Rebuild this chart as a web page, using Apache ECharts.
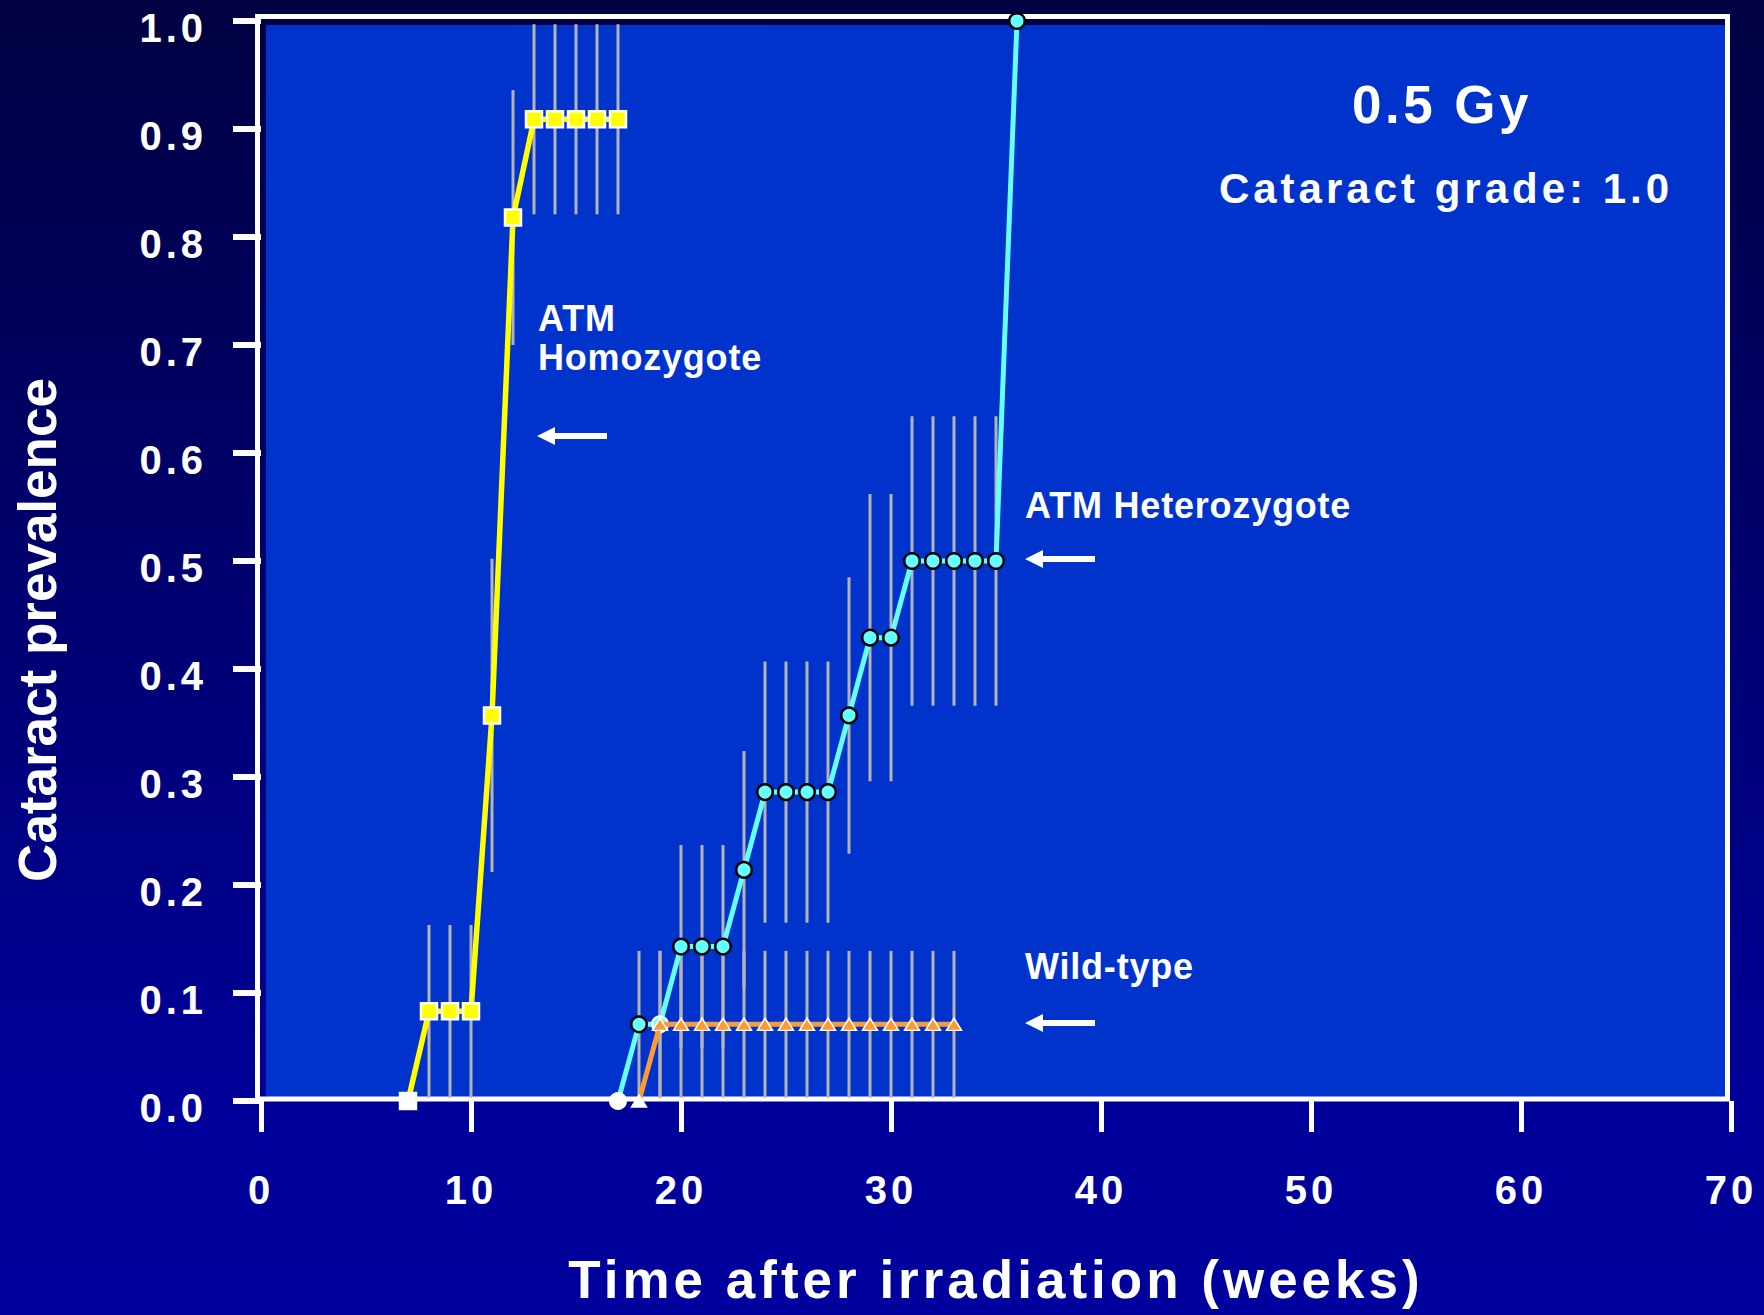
<!DOCTYPE html>
<html>
<head>
<meta charset="utf-8">
<title>Cataract prevalence after 0.5 Gy</title>
<script src="https://cdn.jsdelivr.net/npm/echarts@6/dist/echarts.min.js"></script>
<style>
  html, body { margin: 0; padding: 0; }
  #chart {
    width: 1764px;
    height: 1315px;
    background: linear-gradient(to bottom, #000042 0%, #000070 45%, #00009a 85%, #00009c 100%);
  }
</style>
</head>
<body>
<div id="chart"></div>
<script>
// Time after irradiation (weeks) and cataract prevalence with its error half-width
const weeksHom = [7, 8, 9, 10, 11, 12, 13, 14, 15, 16, 17];
const prevHom  = [0, 0.083, 0.083, 0.083, 0.357, 0.818, 0.909, 0.909, 0.909, 0.909, 0.909];
const errHom   = [0, 0.08, 0.08, 0.08, 0.145, 0.118, 0.088, 0.088, 0.088, 0.088, 0.088];

const weeksHet = [17, 18, 19, 20, 21, 22, 23, 24, 25, 26, 27, 28, 29, 30, 31, 32, 33, 34, 35, 36];
const prevHet  = [0, 0.071, 0.071, 0.143, 0.143, 0.143, 0.214, 0.286, 0.286, 0.286, 0.286,
                  0.357, 0.429, 0.429, 0.5, 0.5, 0.5, 0.5, 0.5, 1.0];
const errHet   = [0, 0.068, 0.068, 0.094, 0.094, 0.094, 0.11, 0.121, 0.121, 0.121, 0.121,
                  0.128, 0.133, 0.133, 0.134, 0.134, 0.134, 0.134, 0.134, 0];

const weeksWt = [18, 19, 20, 21, 22, 23, 24, 25, 26, 27, 28, 29, 30, 31, 32, 33];
const prevWt  = [0, 0.071, 0.071, 0.071, 0.071, 0.071, 0.071, 0.071, 0.071, 0.071, 0.071,
                 0.071, 0.071, 0.071, 0.071, 0.071];
const errWt   = [0, 0.068, 0.068, 0.068, 0.068, 0.068, 0.068, 0.068, 0.068, 0.068, 0.068,
                 0.068, 0.068, 0.068, 0.068, 0.068];

const xTicks = [0, 10, 20, 30, 40, 50, 60, 70];
const yTicks = [0, 0.1, 0.2, 0.3, 0.4, 0.5, 0.6, 0.7, 0.8, 0.9, 1.0];

const xTitle = 'Time after irradiation (weeks)';
const yTitle = 'Cataract prevalence';
const doseText = '0.5 Gy';
const gradeText = 'Cataract grade: 1.0';
const labelHomLines = ['ATM', 'Homozygote'];
const labelHet = 'ATM Heterozygote';
const labelWt = 'Wild-type';

const FONT = '"Liberation Sans", Arial, Helvetica, sans-serif';
const YELLOW = '#ffff00', CYAN = '#66ffff', ORANGE = '#ff9933', BAR = '#b4b4b4';

function points(weeks, vals, styler) {
  return weeks.map((w, i) => {
    const d = { value: [w, vals[i]] };
    const s = styler(w, vals[i]);
    if (s) d.itemStyle = s;
    return d;
  });
}

function bars(weeks, vals, errs) {
  const out = [];
  weeks.forEach((w, i) => { if (errs[i] > 0) out.push([w, vals[i], errs[i]]); });
  return out;
}

function errorBarSeries(data) {
  return {
    type: 'custom',
    z: 1,
    silent: true,
    clip: false,
    encode: { x: 0, y: 1 },
    data: data,
    renderItem: function (params, api) {
      const x = api.value(0), y = api.value(1), e = api.value(2);
      const lo = api.coord([x, y - e]);
      const hi = api.coord([x, y + e]);
      return {
        type: 'line',
        shape: { x1: lo[0], y1: lo[1], x2: hi[0], y2: hi[1] },
        style: { stroke: BAR, lineWidth: 3 }
      };
    }
  };
}

function arrow(tipX, y) {
  // left-pointing arrow: head 18 px long and 18 px tall, shaft 6 px thick
  return {
    type: 'polygon',
    z: 5,
    silent: true,
    shape: {
      points: [
        [tipX, y], [tipX + 18, y - 9], [tipX + 18, y - 3], [tipX + 70, y - 3],
        [tipX + 70, y + 3], [tipX + 18, y + 3], [tipX + 18, y + 9]
      ]
    },
    style: { fill: '#ffffff' }
  };
}

function label(text, x, y, size, align, extra, styleExtra) {
  return Object.assign({
    type: 'text',
    z: 5,
    silent: true,
    x: x,
    y: y,
    style: Object.assign({
      text: text,
      fill: '#ffffff',
      font: 'bold ' + size + 'px ' + FONT,
      align: align,
      verticalAlign: 'middle'
    }, styleExtra || {})
  }, extra || {});
}

const chart = echarts.init(document.getElementById('chart'), null, { renderer: 'svg' });

const option = {
  animation: false,
  backgroundColor: 'transparent',
  grid: { left: 261, right: 33, top: 21, bottom: 214 },
  xAxis: {
    type: 'value',
    min: xTicks[0],
    max: xTicks[xTicks.length - 1],
    interval: xTicks[1] - xTicks[0],
    axisLine: { show: false },
    splitLine: { show: false },
    axisTick: { show: true, length: 31, lineStyle: { color: '#ffffff', width: 5 } },
    axisLabel: {
      color: '#ffffff', fontSize: 40, fontWeight: 'bold', fontFamily: FONT,
      margin: 89, verticalAlign: 'middle'
    },
    name: xTitle,
    nameLocation: 'middle',
    nameGap: 178,
    nameTextStyle: {
      color: '#ffffff', fontSize: 53, fontWeight: 'bold', fontFamily: FONT,
      verticalAlign: 'middle'
    }
  },
  yAxis: {
    type: 'value',
    min: yTicks[0],
    max: yTicks[yTicks.length - 1],
    interval: 0.1,
    axisLine: { show: false },
    splitLine: { show: false },
    axisTick: { show: true, length: 28, lineStyle: { color: '#ffffff', width: 6 } },
    axisLabel: {
      color: '#ffffff', fontSize: 40, fontWeight: 'bold', fontFamily: FONT,
      margin: 54, verticalAlign: 'top', lineHeight: 13,
      formatter: v => v.toFixed(1)
    }
  },
  graphic: [
    // plot panel and its white frame
    { type: 'rect', z: -1, silent: true, shape: { x: 266, y: 25, width: 1459, height: 1072 },
      style: { fill: '#0033cc' } },
    { type: 'rect', z: -1, silent: true, shape: { x: 257.5, y: 16.5, width: 1470, height: 1082.5 },
      style: { fill: 'none', stroke: '#ffffff', lineWidth: 5 } },
    label(doseText, 1442, 104, 53, 'center'),
    label(gradeText, 1446, 188, 42, 'center'),
    label(labelHomLines.join('\n'), 538, 338, 36, 'left', null, { lineHeight: 39 }),
    label(labelHet, 1025, 505, 36, 'left'),
    label(labelWt, 1025, 966, 36, 'left'),
    arrow(537, 436),
    arrow(1025, 559),
    arrow(1025, 1023),
    label(yTitle, 37, 630, 53, 'center', { rotation: Math.PI / 2 })
  ],
  series: [
    errorBarSeries(bars(weeksHom, prevHom, errHom)),
    errorBarSeries(bars(weeksHet, prevHet, errHet)),
    errorBarSeries(bars(weeksWt, prevWt, errWt)),
    {
      name: 'ATM Homozygote',
      type: 'line',
      z: 3,
      clip: false,
      data: points(weeksHom, prevHom, (w, v) => v === 0 ? { color: '#ffffff' } : null),
      symbol: 'rect',
      symbolSize: 16,
      lineStyle: { color: YELLOW, width: 5.5 },
      itemStyle: { color: YELLOW, borderColor: '#ffffff', borderWidth: 2.5 }
    },
    {
      name: 'ATM Heterozygote',
      type: 'line',
      z: 4,
      clip: false,
      data: points(weeksHet, prevHet, (w, v) => {
        if (v === 0) return { color: '#ffffff', borderColor: '#ffffff' };
        if (w === 19) return { borderColor: '#ffffff' };
        return null;
      }),
      symbol: 'circle',
      symbolSize: 15.5,
      lineStyle: { color: CYAN, width: 5 },
      itemStyle: { color: CYAN, borderColor: '#000000', borderWidth: 2.5 }
    },
    {
      name: 'Wild-type',
      type: 'line',
      z: 5,
      clip: false,
      data: points(weeksWt, prevWt, (w, v) => v === 0 ? { color: '#ffffff' } : null),
      symbol: 'triangle',
      symbolSize: [15, 12],
      lineStyle: { color: ORANGE, width: 5 },
      itemStyle: { color: ORANGE, borderColor: '#ffffff', borderWidth: 1.5 }
    }
  ]
};

// the axis numbers and headings are set with extra letter spacing
const spaced = {};
xTicks.forEach(v => { spaced[String(v)] = 4; });
yTicks.forEach(v => { spaced[v.toFixed(1)] = 4; });
spaced[xTitle] = 4;
spaced[doseText] = 3.5;
spaced[gradeText] = 4;
[labelHet, labelWt].concat(labelHomLines).forEach(s => { spaced[s] = 0.8; });

function applySpacing() {
  document.querySelectorAll('#chart svg text').forEach(t => {
    const s = spaced[t.textContent];
    if (s) t.setAttribute('letter-spacing', s);
  });
}

chart.on('finished', applySpacing);
chart.setOption(option);
applySpacing();
requestAnimationFrame(applySpacing);
</script>
</body>
</html>
